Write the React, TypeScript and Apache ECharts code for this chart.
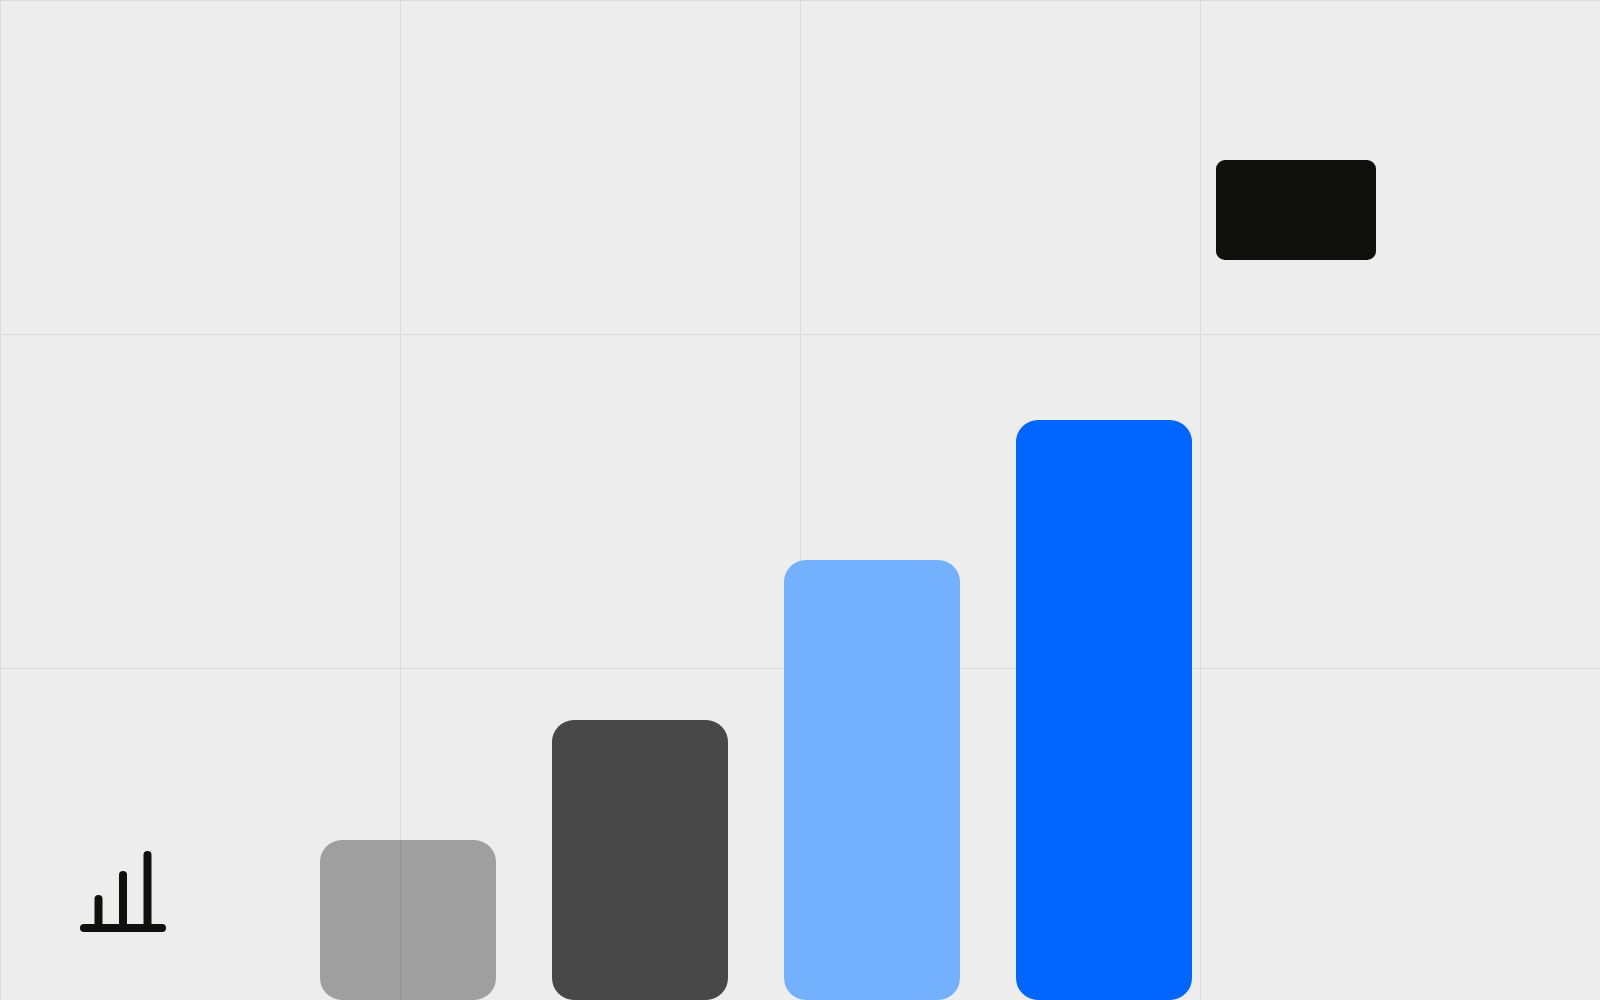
import React, { useEffect, useRef } from "react";
import * as echarts from "echarts";

const BG = "#ededed";
const INK = "#10100e";
const GRID_LINE = "#dcdcdc";
const categories = ["A", "B", "C", "D"];
const barValues = [160, 280, 440, 580];
const barColors = ["rgba(15,15,13,0.35)", "#484848", "#73b1ff", "#0066ff"];
const rowsShown = 2.994;

export default function App() {
  const ref = useRef<HTMLDivElement>(null);
  useEffect(() => {
    const chart = echarts.init(ref.current!, null, { renderer: "svg" });
    const iconLine = (x1: number, y1: number, x2: number, y2: number) => ({
      type: "line",
      z: 10,
      shape: { x1, y1, x2, y2 },
      style: { stroke: INK, lineWidth: 8, lineCap: "round" },
    });
    chart.setOption({
      animation: false,
      backgroundColor: BG,
      grid: [
        { left: 0, top: 0, width: 1600, height: 1000, show: false },
        { left: 292, top: 0, width: 928, height: 1000, show: false },
      ],
      xAxis: [
        {
          type: "value", gridIndex: 0, min: 0, max: 4, interval: 1,
          axisLine: { show: false }, axisTick: { show: false }, axisLabel: { show: false },
          splitLine: { show: true, lineStyle: { color: GRID_LINE, width: 1 } },
        },
        {
          type: "category", gridIndex: 1, data: categories,
          axisLine: { show: false }, axisTick: { show: false }, axisLabel: { show: false },
        },
      ],
      yAxis: [
        {
          type: "value", gridIndex: 0, inverse: true, min: 0, max: rowsShown, interval: 1,
          axisLine: { show: false }, axisTick: { show: false }, axisLabel: { show: false },
          splitLine: { show: true, showMaxLine: false, lineStyle: { color: GRID_LINE, width: 1 } },
        },
        {
          type: "value", gridIndex: 1, min: 0, max: 1000,
          axisLine: { show: false }, axisTick: { show: false }, axisLabel: { show: false },
          splitLine: { show: false },
        },
      ],
      series: [
        {
          type: "bar", xAxisIndex: 1, yAxisIndex: 1, barWidth: 176,
          data: barValues.map((value, i) => ({
            value,
            itemStyle: { color: barColors[i], borderRadius: 22 },
          })),
        },
      ],
      graphic: [
        { type: "rect", z: 10, shape: { x: 1216, y: 160, width: 160, height: 100, r: 9 }, style: { fill: INK } },
        iconLine(84, 928, 162, 928),
        iconLine(98.5, 899, 98.5, 925),
        iconLine(123, 875, 123, 925),
        iconLine(147.5, 855, 147.5, 925),
      ],
    });
    return () => chart.dispose();
  }, []);
  return <div ref={ref} style={{ position: "fixed", left: 0, top: 0, width: 1600, height: 1000 }} />;
}
